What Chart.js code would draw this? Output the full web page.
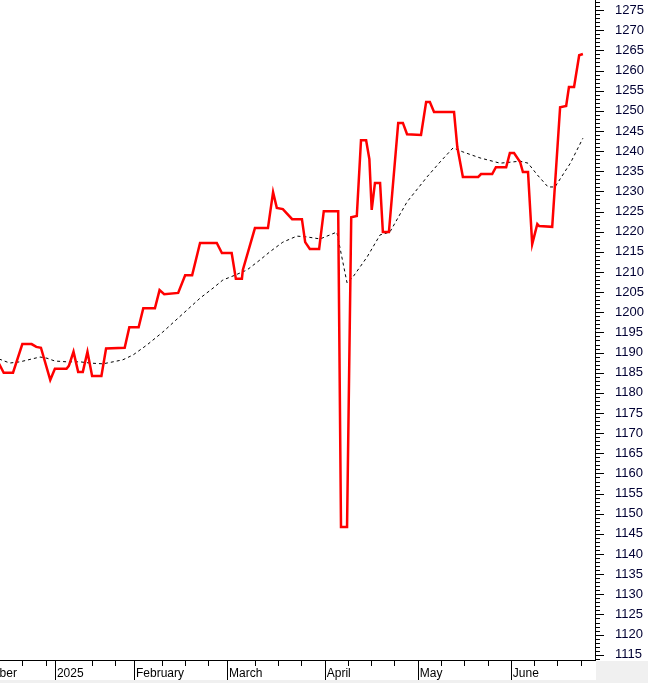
<!DOCTYPE html>
<html>
<head>
<meta charset="utf-8">
<script src="https://cdn.jsdelivr.net/npm/chart.js@4"></script>
<style>
html, body { margin: 0; padding: 0; background: #fff; }
canvas { display: block; }
</style>
</head>
<body>
<canvas id="priceChart" width="648" height="683"></canvas>
<script>
// x = trading-day index, 0 = first session of January 2025
const priceDays = [-12, -11, -9, -7, -5, -4, -3, -1, 0, 2.5, 3, 4, 5, 6, 7, 8, 10, 11, 15, 16,
    18, 19, 21.5, 22.5, 23.5, 26.5, 28, 29.5, 31.2, 34.8, 35.9, 38, 38.9, 40.2, 40.4, 43, 45.8,
    46.9, 47.7, 49, 51, 53.1, 53.8, 54.8, 56.8, 57.8, 60.9, 61.5, 62.8, 63.7, 64.9, 65.8, 66.9,
    67.6, 68.1, 68.8, 69.9, 70.5, 71.8, 73.8, 74.8, 75.7, 78.7, 79.8, 80.6, 81.5, 85.8, 86.5,
    87.7, 91, 91.6, 94, 94.8, 97, 97.8, 98.7, 100, 100.6, 101.7, 102.6, 103, 103.7, 104.1,
    106.9, 108.6, 109.9, 110.5, 111.6, 112.7, 113.5];
const priceValues = [1187.2, 1185, 1185, 1192.1, 1192.1, 1191.4, 1191.2, 1183.2, 1186, 1186, 1186.7, 1190.2, 1185.2, 1185.2, 1190.2, 1184.2, 1184.2, 1191, 1191.2, 1196.3,
    1196.3, 1201, 1201, 1205.5, 1204.5, 1204.8, 1209.2, 1209.2, 1217.2, 1217.2, 1214.7, 1214.7, 1208.3, 1208.3, 1210.5, 1220.9, 1220.9,
    1229.8, 1225.9, 1225.6, 1223.1, 1223.1, 1217.4, 1215.7, 1215.7, 1225.1, 1225.1, 1146.7, 1146.7, 1223.6, 1223.9, 1242.7, 1242.7,
    1238, 1225.4, 1232.1, 1232.1, 1219.9, 1219.9, 1247, 1247, 1244.2, 1244, 1252.2, 1252.2, 1249.7, 1249.7, 1241,
    1233.6, 1233.6, 1234.3, 1234.3, 1236, 1236, 1239.5, 1239.5, 1237.3, 1234.8, 1234.8, 1216.9, 1218.7, 1221.9, 1221.4,
    1221.2, 1250.9, 1251.2, 1255.9, 1255.9, 1263.8, 1264.1];

// moving average (dotted line)
const avgDays = [-12, -9.7, -7.5, -3.2, -1.7, 0, 2.6, 5.4, 7.5, 10.3, 12.5, 14.6, 16.8, 19.8, 23.2,
    31.2, 34, 36.1, 38.7, 41.3, 44.1, 46.2, 49, 52, 54.2, 57, 60.6, 62.8, 63.9, 67.1, 69.9, 72,
    75.7, 80, 82.8, 85.6, 87.7, 91.4, 95.7, 100, 101.7, 103.7, 106, 107.5, 110.8, 113.5];
const avgValues = [1188.4, 1187.4, 1187.7, 1188.9, 1188.6, 1187.9, 1187.7, 1187.7, 1187.4, 1187.2, 1187.7, 1188.2, 1189.4, 1191.9, 1195.1,
    1203.5, 1206, 1208, 1209.2, 1210.5, 1213, 1215, 1217.4, 1218.9, 1218.7, 1218.2, 1219.9, 1207.3, 1208.5, 1213.7, 1219.2, 1219.9,
    1227.4, 1233.6, 1237.3, 1240.8, 1239.8, 1238.3, 1237, 1237.5, 1237, 1234.1, 1231.1, 1231.1, 1237, 1243.2];

const monthStarts = [-20.5, 0, 17, 37, 58, 78, 98];
const monthLabels = ['December', '2025', 'February', 'March', 'April', 'May', 'June'];
const weekTicks = [-12, -7, -2, 8, 13, 23, 28, 33, 43, 48, 53, 63, 68, 73, 83, 88, 93, 103, 108, 113];
const yLabelValues = [1115, 1120, 1125, 1130, 1135, 1140, 1145, 1150, 1155, 1160, 1165, 1170, 1175,
    1180, 1185, 1190, 1195, 1200, 1205, 1210, 1215, 1220, 1225, 1230, 1235, 1240, 1245, 1250,
    1255, 1260, 1265, 1270, 1275];

const axisMarks = {
    id: 'axisMarks',
    beforeDraw(chart) {
        const c = chart.ctx;
        const a = chart.chartArea;
        c.save();
        c.fillStyle = '#ffffff';
        c.fillRect(0, 0, chart.width, chart.height);
        c.fillStyle = '#f0f0f0';
        c.fillRect(a.right + 1, a.bottom + 1, chart.width, chart.height);
        c.fillRect(0, a.bottom + 20, chart.width, chart.height);
        c.restore();
    },
    afterDraw(chart) {
        const c = chart.ctx;
        const a = chart.chartArea;
        const x = chart.scales.x;
        const y = chart.scales.y;
        c.save();
        c.strokeStyle = '#000';
        c.lineWidth = 1;
        c.beginPath();
        c.moveTo(a.left, a.bottom + 0.5);
        c.lineTo(a.right + 1, a.bottom + 0.5);
        c.moveTo(a.right + 0.5, a.top);
        c.lineTo(a.right + 0.5, a.bottom + 1);
        weekTicks.forEach(v => {
            const px = Math.round(x.getPixelForValue(v)) + 0.5;
            c.moveTo(px, a.bottom);
            c.lineTo(px, a.bottom + 6);
        });
        monthStarts.forEach(v => {
            const px = Math.round(x.getPixelForValue(v)) + 0.5;
            c.moveTo(px, a.bottom);
            c.lineTo(px, a.bottom + 20);
        });
        for (let v = 1114; v <= 1277; v++) {
            const py = Math.round(y.getPixelForValue(v)) + 0.5;
            c.moveTo(a.right, py);
            c.lineTo(a.right + (v % 5 === 0 ? 9 : 5), py);
        }
        c.stroke();
        c.restore();
    }
};

const chart = new Chart(document.getElementById('priceChart'), {
    type: 'line',
    data: {
        datasets: [
            {
                label: 'Price',
                data: priceDays.map((d, i) => ({ x: d, y: priceValues[i] })),
                borderColor: '#ff0000',
                borderWidth: 2.5,
                pointRadius: 0,
                fill: false,
            },
            {
                label: 'Average',
                data: avgDays.map((d, i) => ({ x: d, y: avgValues[i] })),
                borderColor: '#000000',
                borderWidth: 1,
                borderDash: [3, 3],
                pointRadius: 0,
                fill: false,
            },
        ],
    },
    options: {
        responsive: false,
        animation: false,
        devicePixelRatio: 1,
        layout: { padding: 0 },
        plugins: {
            legend: { display: false },
            tooltip: { enabled: false },
        },
        scales: {
            x: {
                type: 'linear',
                position: 'bottom',
                min: -11.8,
                max: 116.1,
                grid: { display: false },
                border: { display: false },
                afterBuildTicks: s => { s.ticks = monthStarts.map(v => ({ value: v })); },
                afterFit: s => { s.height = 23; s.paddingLeft = 0; s.paddingRight = 0; },
                ticks: {
                    autoSkip: false,
                    maxRotation: 0,
                    align: 'start',
                    labelOffset: 2,
                    padding: -2,
                    color: '#000',
                    font: { family: 'Liberation Sans', size: 12 },
                    callback: (v, i) => monthLabels[i],
                },
            },
            y: {
                position: 'right',
                min: 1113.7,
                max: 1277.5,
                grid: { display: false },
                border: { display: false },
                afterBuildTicks: s => { s.ticks = yLabelValues.map(v => ({ value: v })); },
                afterFit: s => { s.width = 53; s.paddingTop = 0; s.paddingBottom = 0; },
                ticks: {
                    padding: 12,
                    color: '#000033',
                    font: { family: 'Liberation Sans', size: 13 },
                    callback: v => String(v),
                },
            },
        },
    },
    plugins: [axisMarks],
});
</script>
</body>
</html>
